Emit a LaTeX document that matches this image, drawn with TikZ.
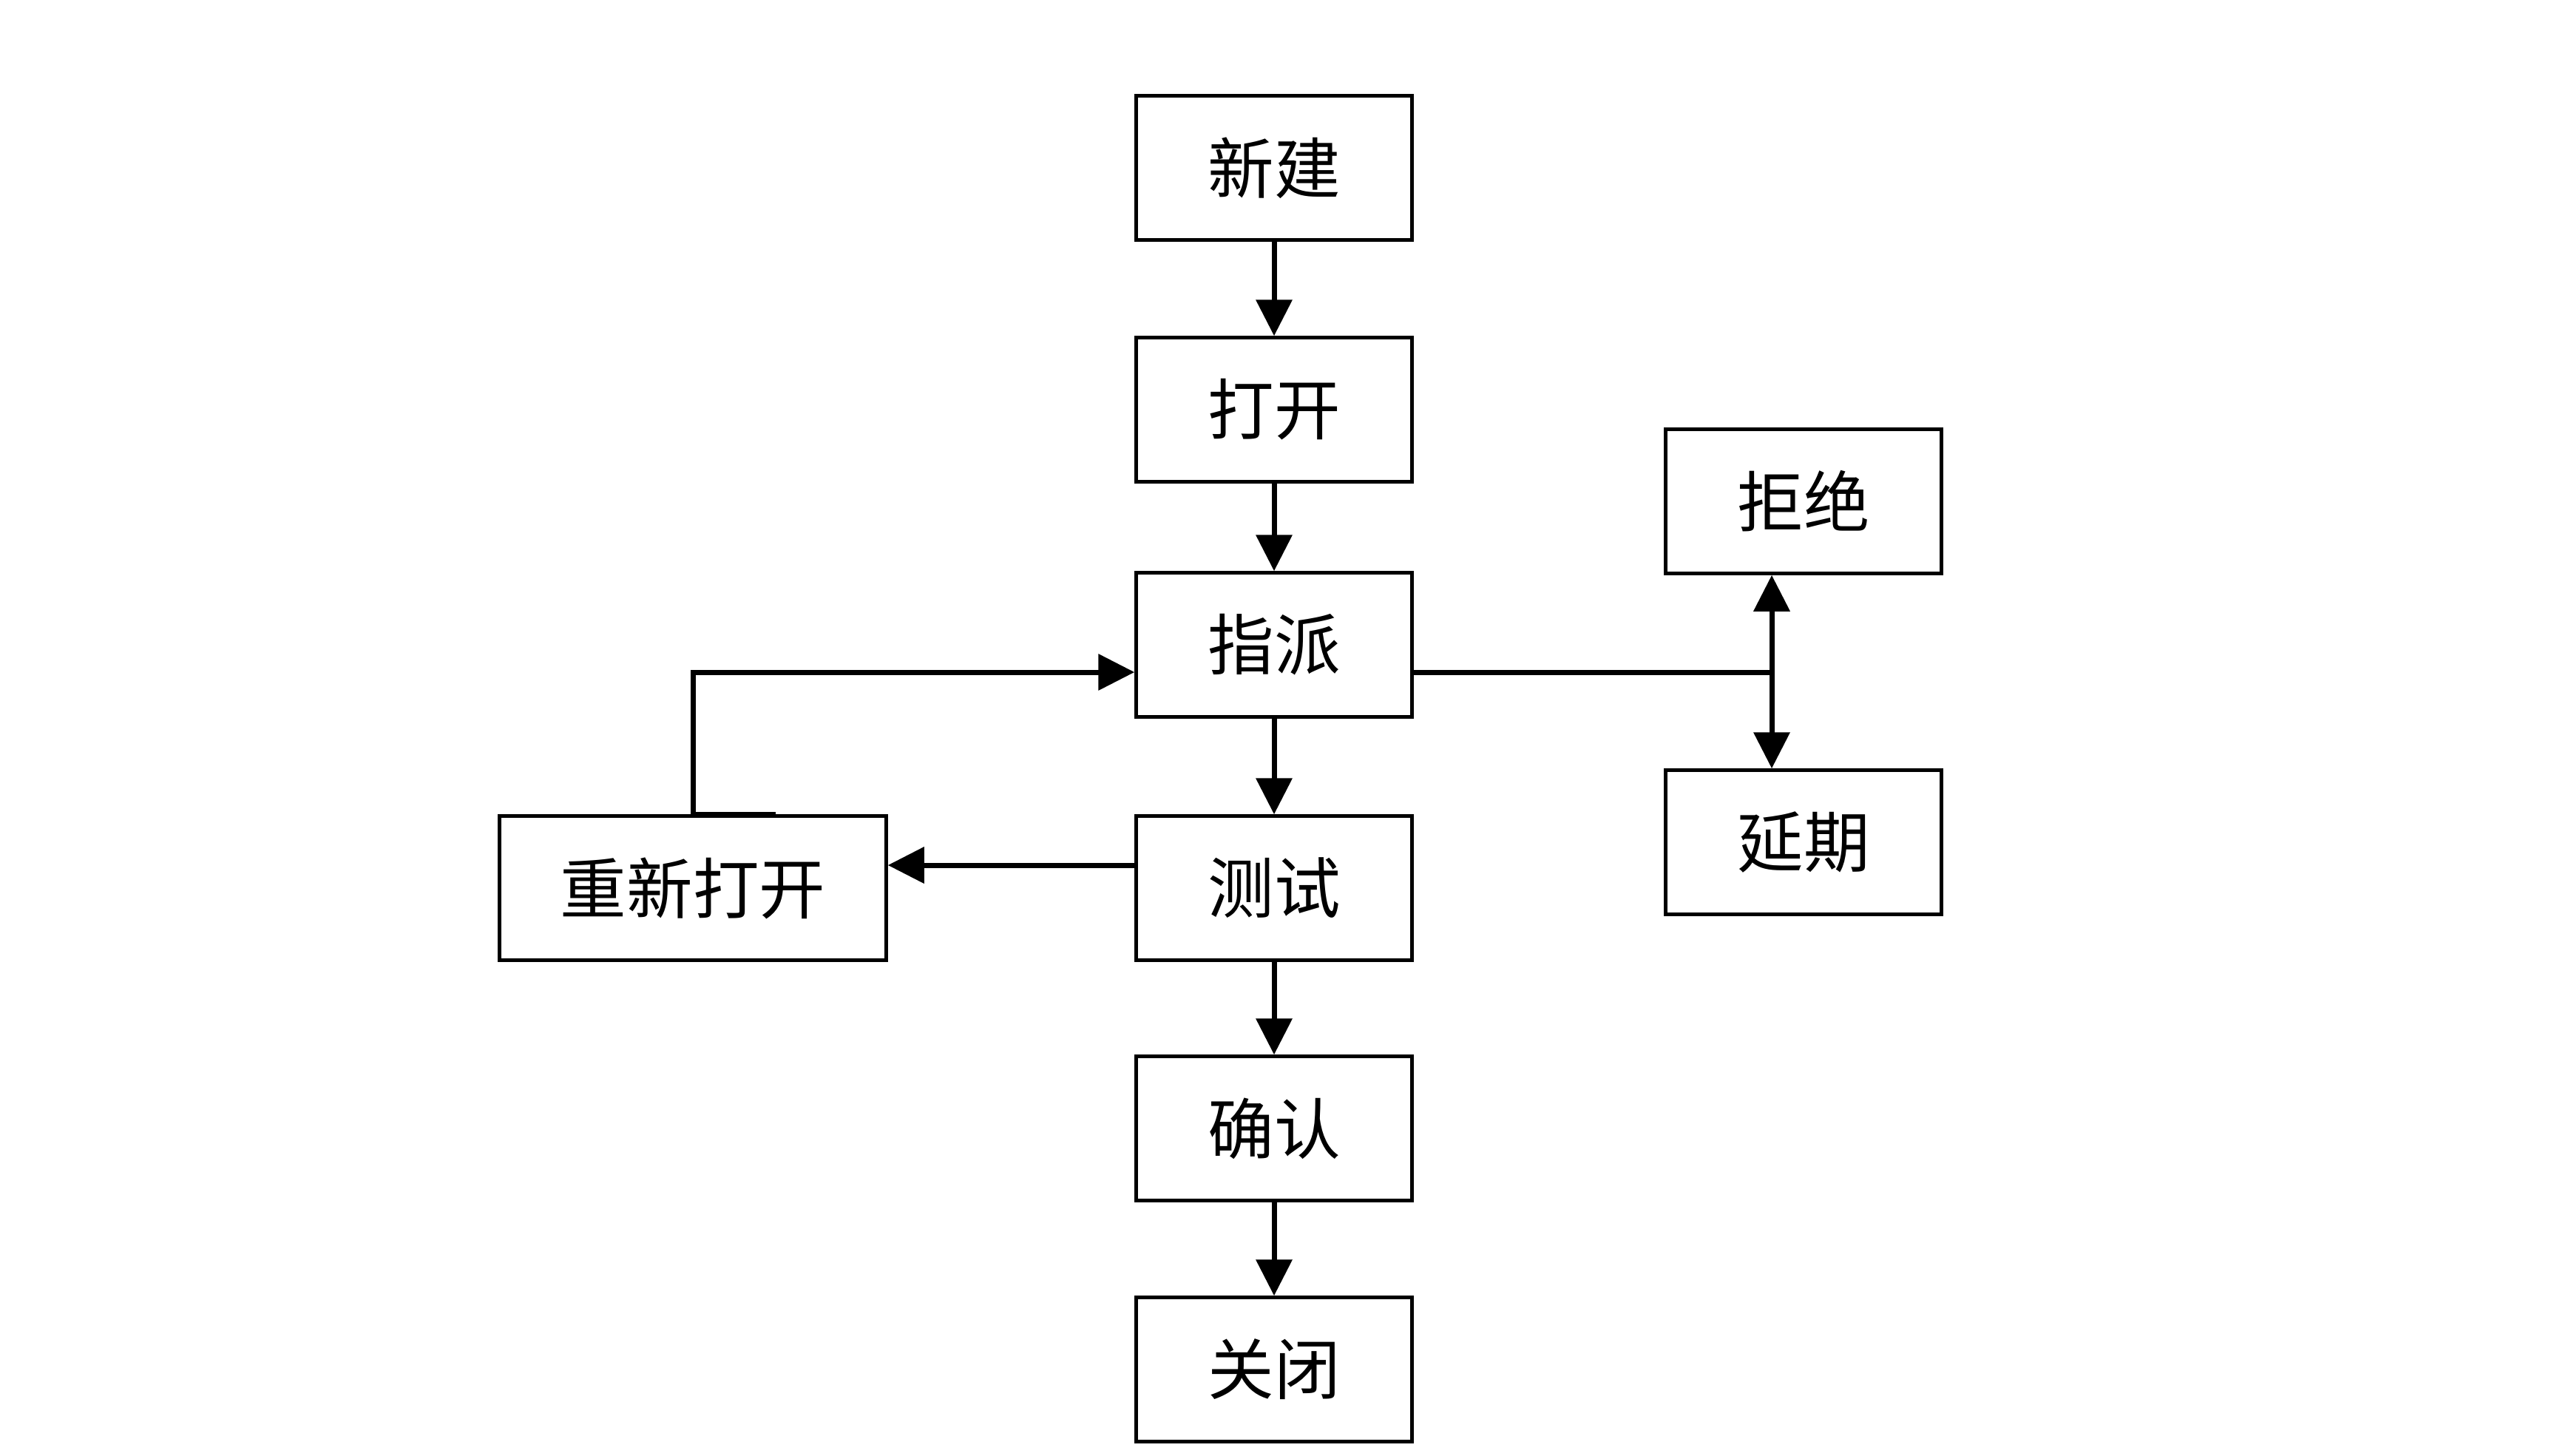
\documentclass[tikz,border=0pt]{standalone}
\usepackage{fontspec}
\setmainfont{Noto Sans CJK SC}
\usetikzlibrary{positioning,arrows.meta,calc}

\begin{document}
\begin{tikzpicture}[x=1cm,y=1cm,
    every node/.style={align=center},
    state/.style={draw, line width=0.045cm, minimum width=3.73cm, minimum height=1.95cm, inner sep=0pt, font=\fontsize{25.5}{30}\selectfont},
    flow/.style={line width=0.07cm, -{Triangle[length=0.49cm,width=0.48cm]}},
    link/.style={line width=0.07cm}]
  \useasboundingbox (0,0) rectangle (34.62,-19.68);
  % main column
  \node[state] (new) at (17.23,-2.27) {新建};
  \node[state] (open) at (17.23,-5.54) {打开};
  \node[state] (assign) at (17.23,-8.72) {指派};
  \node[state] (test) at (17.23,-12.01) {测试};
  \node[state] (confirm) at (17.23,-15.26) {确认};
  \node[state] (close) at (17.23,-18.52) {关闭};
  % side boxes
  \node[state] (reject) at (24.39,-6.78) {拒绝};
  \node[state] (defer) at (24.39,-11.39) {延期};
  \node[state, minimum width=5.23cm] (reopen) at (9.37,-12.01) {重新打开};

  \draw[flow] (new) -- (open);
  \draw[flow] (open) -- (assign);
  \draw[flow] (assign) -- (test);
  \draw[flow] (test) -- (confirm);
  \draw[flow] (confirm) -- (close);

  \coordinate (split) at (23.96,-9.09);
  \draw[link] (assign.east |- split) -- (split);
  \draw[flow] (split) -- (split |- reject.south);
  \draw[flow] (split) -- (split |- defer.north);

  \draw[flow] ([yshift=0.31cm]test.west) -- ([yshift=0.31cm]reopen.east);
  \draw[flow] ([xshift=1.12cm]reopen.north) -- (reopen.north) |- (assign.west |- split);
\end{tikzpicture}
\end{document}
